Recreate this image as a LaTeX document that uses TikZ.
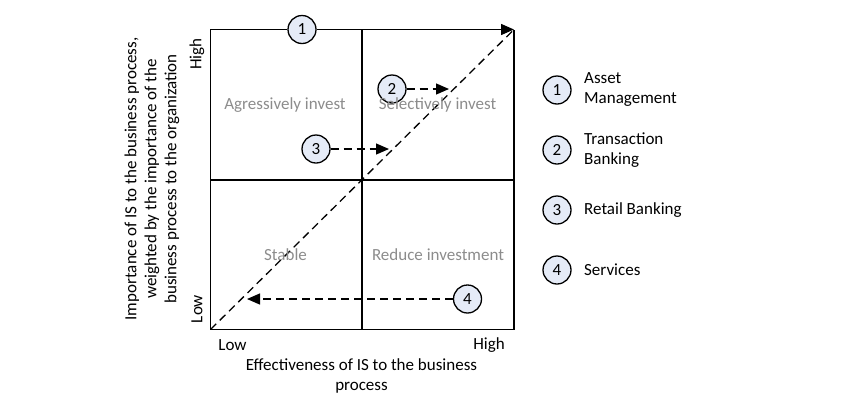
\documentclass[tikz,border=0pt]{standalone}
\usepackage{fontspec}
\setmainfont{Carlito}
\usepackage{xcolor}
\usepackage{tikz}
\usetikzlibrary{positioning, arrows.meta}
\definecolor{segfill}{rgb}{0.90, 0.92, 0.97}
\definecolor{quadgray}{rgb}{0.55, 0.55, 0.55}

\begin{document}
\begin{tikzpicture}[x=1pt, y=-1pt, every node/.style={font=\fontsize{17}{20}\selectfont}]
\useasboundingbox (0,0) rectangle (850,405);
\tikzstyle{seg}=[circle, draw=black, line width=1.3pt, minimum size=28pt, inner sep=0pt, fill=segfill, font=\fontsize{17}{20}\selectfont]
\tikzstyle{quad}=[text=quadgray]
\tikzstyle{frame}=[line width=1.4pt]
\tikzstyle{move}=[line width=1.3pt, dash pattern=on 8pt off 5pt]
\tikzstyle{tip}=[-{Triangle[length=13pt, width=11pt]}]
%%
\coordinate (sw) at (210.5,329.5);
\coordinate (se) at (514,329.5);
\coordinate (nw) at (210.5,29.5);
\coordinate (ne) at (514,29.5);
\coordinate (mt) at (362,29.5);
\coordinate (mb) at (362,329.5);
\coordinate (ml) at (210.5,180);
\coordinate (mr) at (514,180);

%% segments
\node (s1) at (302,29.5) [seg] {1};
\node (s2) at (392,89) [seg] {2};
\node (s3) at (316,149) [seg] {3};
\node (s4) at (467.5,299) [seg] {4};
\coordinate (t2) at (449,89);
\coordinate (t3) at (389,149);
\coordinate (t4) at (247,299);

%% grid
\draw [move] (sw) -- (ne);
\draw [frame] (s1) -- (nw) -- (sw) -- (se) -- (ne);
\draw [frame] (mt) -- (mb);
\draw [frame] (ml) -- (mr);
\draw [frame, tip] (s1) -- (ne);

\draw [move, tip] (s2) -- (t2);
\draw [move, tip] (s3) -- (t3);
\draw [move, tip] (s4) -- (t4);

%% quadrants
\node (q1) at (285,105) [quad] {Agressively invest};
\node (q2) at (437.5,105) [quad] {Selectively invest};
\node (q3) at (285.5,255) [quad] {Stable};
\node (q4) at (438,255) [quad] {Reduce investment};

%% axes
\node (xl) at (232.5,345) {Low};
\node (xh) at (489,345) {High};
\node (xt) at (361.5,376) [align=center] {Effectiveness of IS to the business\\process};
\node (yl) at (197,309) [rotate=90] {Low};
\node (yh) at (197,54) [rotate=90] {High};
\node (yt) at (152,179) [rotate=90, align=center] {Importance of IS to the business process,\\weighted by the importance of the\\business process to the organization};

%% legend
\node (k1) at (557,90) [seg] {1};
\node (k2) at (557,150) [seg] {2};
\node (k3) at (557,210) [seg] {3};
\node (k4) at (557,270) [seg] {4};
\node [right=9pt of k1, align=left](l1) {Asset\\Management};
\node [right=9pt of k2, align=left](l2) {Transaction\\Banking};
\node [right=9pt of k3](l3) {Retail Banking};
\node [right=9pt of k4](l4) {Services};
\end{tikzpicture}
\end{document}
